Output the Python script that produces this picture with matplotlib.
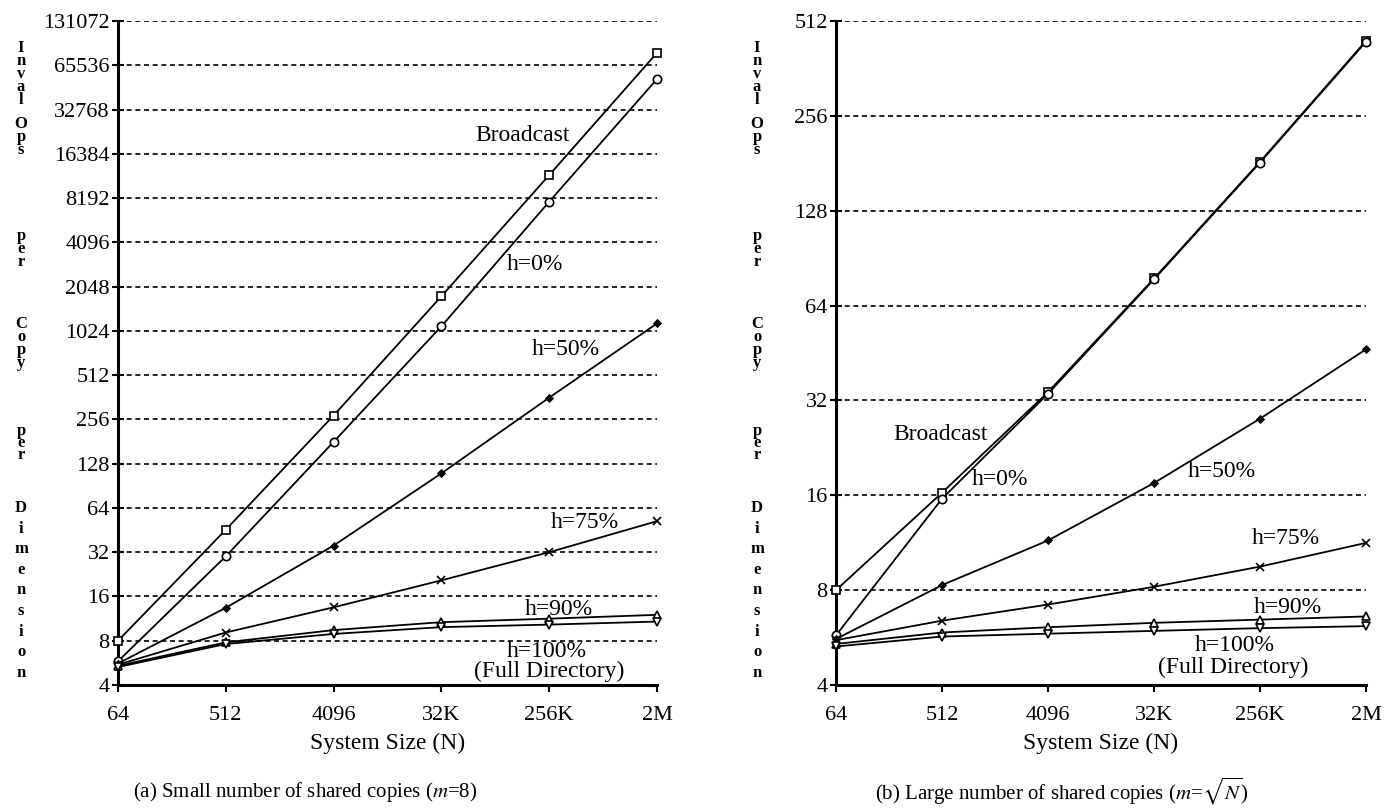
import numpy as np
import matplotlib.pyplot as plt

plt.rcParams['font.family'] = ['Liberation Serif', 'DejaVu Serif']
plt.rcParams['mathtext.fontset'] = 'stix'

W, H = 1396, 809

# System sizes (x axis)
sizes = [64, 512, 4096, 32768, 262144, 2097152]
size_labels = ['64', '512', '4096', '32K', '256K', '2M']

# (a) small number of shared copies, m=8
a_broadcast = [8, 45.5, 272, 1760, 11740, 79600]
a_h0 = [5.8, 30, 180, 1100, 7740, 52800]
a_h50 = [5.6, 13.4, 35.5, 110, 360, 1150]
a_h75 = [5.5, 9.1, 13.5, 20.6, 32, 52]
a_h90 = [5.4, 7.8, 9.45, 10.7, 11.3, 12.0]
a_h100 = [5.3, 7.6, 8.9, 9.9, 10.3, 10.8]
a_yticks = [2 ** k for k in range(2, 18)]

# (b) large number of shared copies, m=sqrt(N)
b_broadcast = [8, 16.3, 34, 78, 183, 443]
b_h0 = [5.75, 15.6, 33.6, 77.5, 182, 440]
b_h50 = [5.6, 8.3, 11.5, 17.5, 28, 46.5]
b_h75 = [5.55, 6.4, 7.2, 8.2, 9.5, 11.3]
b_h90 = [5.4, 5.87, 6.1, 6.3, 6.45, 6.6]
b_h100 = [5.3, 5.7, 5.82, 5.94, 6.06, 6.15]
b_yticks = [2 ** k for k in range(2, 10)]

# marker, face colour, size for each series
styles = [('s', 'white', 6), ('o', 'white', 6), ('D', 'black', 3.5),
          ('x', 'black', 6), ('^', 'white', 6), ('v', 'white', 6)]

# stacked y label: first letter row and letter pitch (pixels)
ylabel_words = ['Inval', 'Ops', 'per', 'Copy', 'per', 'Dimension']
ylabel_start = [48, 124, 236, 324, 431, 508]
ylabel_pitch = [13, 13, 13, 13, 12, 20.6]


def px(x, y):
    return x / W, 1 - y / H


# Draws one panel from its series
def draw_panel(ax, series, yticks, notes):
    for t in yticks[1:]:
        ax.axhline(t, color='black', lw=1.2, dashes=(3, 2.2), zorder=0)
    for ys, (mk, fc, ms) in zip(series, styles):
        ax.plot(sizes, ys, color='black', lw=1.3, marker=mk, mfc=fc,
                mec='black', ms=ms, mew=1.2, clip_on=False, zorder=3)

    ax.set_xscale('log', base=2)
    ax.set_yscale('log', base=2)
    ax.set_xlim(sizes[0], sizes[-1])
    ax.set_ylim(yticks[0], yticks[-1])
    ax.set_xticks(sizes)
    ax.set_xticklabels(size_labels)
    ax.set_yticks(yticks)
    ax.set_yticklabels([str(t) for t in yticks])
    ax.minorticks_off()

    for s in ['top', 'right']:
        ax.spines[s].set_visible(False)
    for s in ['left', 'bottom']:
        ax.spines[s].set_linewidth(2.2)
    ax.tick_params(axis='y', direction='inout', length=8, width=1.5,
                   labelsize=16, pad=2)
    ax.tick_params(axis='x', direction='out', length=5, width=1.5,
                   labelsize=16, pad=10)

    for txt, xf, yf in notes:
        ax.text(xf, yf, txt, transform=ax.transAxes, ha='center',
                va='center', fontsize=17)


def draw_ylabel(xc):
    for word, y0, step in zip(ylabel_words, ylabel_start, ylabel_pitch):
        for i, ch in enumerate(word):
            fig.text(*px(xc, y0 + i * step), ch, ha='center', va='center',
                     fontsize=12, fontweight='bold')


fig = plt.figure(figsize=(W / 100, H / 100), dpi=100)
ax1 = fig.add_axes([118 / W, 1 - 685 / H, 539 / W, 664 / H])
ax2 = fig.add_axes([836 / W, 1 - 685 / H, 530 / W, 664 / H])

draw_panel(ax1, [a_broadcast, a_h0, a_h50, a_h75, a_h90, a_h100], a_yticks,
           [('Broadcast', 0.75, 0.828), ('h=0%', 0.774, 0.633),
            ('h=50%', 0.83, 0.505), ('h=75%', 0.866, 0.245),
            ('h=90%', 0.818, 0.113), ('h=100%', 0.796, 0.05),
            ('(Full Directory)', 0.80, 0.02)])
draw_panel(ax2, [b_broadcast, b_h0, b_h50, b_h75, b_h90, b_h100], b_yticks,
           [('Broadcast', 0.198, 0.377), ('h=0%', 0.309, 0.309),
            ('h=50%', 0.728, 0.322), ('h=75%', 0.849, 0.221),
            ('h=90%', 0.853, 0.116), ('h=100%', 0.753, 0.06),
            ('(Full Directory)', 0.75, 0.027)])

draw_ylabel(21)
draw_ylabel(757)

fig.text(*px(388, 743), 'System Size (N)', ha='center', va='center', fontsize=17)
fig.text(*px(1101, 743), 'System Size (N)', ha='center', va='center', fontsize=17)

fig.text(*px(133, 792), '(a) Small number of shared copies ($m$=8)',
         ha='left', va='center', fontsize=15)
fig.text(*px(875, 791), r'(b) Large number of shared copies ($m$=$\sqrt{N}$)',
         ha='left', va='center', fontsize=15)

fig.savefig('out.png', dpi=100)
